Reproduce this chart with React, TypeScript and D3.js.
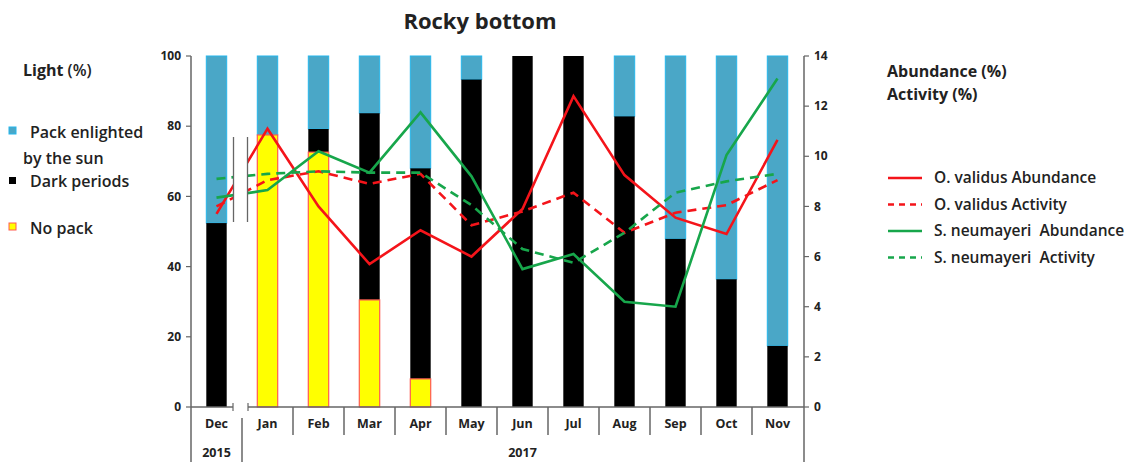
import React from 'react'
import * as d3 from 'd3'

const months = ['Dec', 'Jan', 'Feb', 'Mar', 'Apr', 'May', 'Jun', 'Jul', 'Aug', 'Sep', 'Oct', 'Nov']
// light conditions (%), stacked bottom -> top: no pack, dark, sunlit
const noPack = [0, 77.5, 72.6, 30.5, 8, 0, 0, 0, 0, 0, 0, 0]
const darkPeriods = [52.4, 0, 6.6, 53.2, 60, 93.3, 100, 100, 82.8, 47.9, 36.4, 17.4]
// right axis values
const ovAbundance = [7.7, 11.1, 8.0, 5.7, 7.05, 6.0, 7.9, 12.4, 9.25, 7.55, 6.9, 10.65]
const ovActivity = [8.0, 9.05, 9.4, 8.9, 9.3, 7.25, 7.8, 8.55, 6.95, 7.75, 8.05, 9.05]
const snAbundance = [8.35, 8.65, 10.2, 9.35, 11.75, 9.2, 5.5, 6.1, 4.2, 4.0, 10.05, 13.1]
const snActivity = [9.1, 9.3, 9.4, 9.35, 9.35, 8.05, 6.3, 5.75, 6.95, 8.55, 9.0, 9.3]
const years = [{ label: '2015', from: 0, to: 0 }, { label: '2017', from: 1, to: 11 }]

const BLUE = '#4aa7c7'
const BLUE_EDGE = '#25b6ec'
const RED = '#f4141a'
const GREEN = '#17a64b'
const TXT = '#222'
const AXIS = '#666'
const FONT = '"Open Sans", "DejaVu Sans", sans-serif'

const series = [
  { name: 'O. validus Abundance', values: ovAbundance, color: RED, dash: undefined },
  { name: 'O. validus Activity', values: ovActivity, color: RED, dash: '9,6' },
  { name: 'S. neumayeri  Abundance', values: snAbundance, color: GREEN, dash: undefined },
  { name: 'S. neumayeri  Activity', values: snActivity, color: GREEN, dash: '9,6' },
]

export default function App() {
  const top = 56
  const bottom = 407
  const left = 191
  const right = 804

  const x = d3.scaleBand().domain(months).range([left, 803]).paddingInner(0.6).paddingOuter(0.3)
  const step = x.step()
  const bw = x.bandwidth()
  const cx = (m: string) => (x(m) ?? 0) + bw / 2
  const yL = d3.scaleLinear().domain([0, 100]).range([bottom, top])
  const yR = d3.scaleLinear().domain([0, 14]).range([bottom, top])

  const line = d3.line<number>().x((_, i) => cx(months[i])).y(d => yR(d))

  const breakX = (x('Jan') ?? 0) - (step - bw) / 2
  const gapL = breakX - 9
  const gapR = breakX + 6

  return (
    <svg width={1130} height={462} style={{ position: 'absolute', left: 0, top: 0, background: '#fff' }} fontFamily={FONT}>
      <defs>
        <clipPath id="gap">
          <rect x={0} y={0} width={gapL} height={462} />
          <rect x={gapR} y={0} width={1130 - gapR} height={462} />
        </clipPath>
      </defs>

      <text x={480} y={29} textAnchor="middle" fontSize={22} fontWeight={700} fill={TXT}>Rocky bottom</text>

      {/* bars */}
      {months.map((m, i) => {
        const y0 = noPack[i]
        const y1 = y0 + darkPeriods[i]
        return (
          <g key={m}>
            {y1 < 100 && (
              <rect x={x(m)} y={yL(100)} width={bw} height={yL(y1) - yL(100)} fill={BLUE} stroke={BLUE_EDGE} strokeWidth={1} />
            )}
            {darkPeriods[i] > 0 && (
              <rect x={x(m)} y={yL(y1)} width={bw} height={yL(y0) - yL(y1)} fill="#000" />
            )}
            {y0 > 0 && (
              <rect x={x(m)} y={yL(y0)} width={bw} height={yL(0) - yL(y0)} fill="#ffff00" stroke="#ff5a50" strokeWidth={1.2} />
            )}
          </g>
        )
      })}

      {/* lines */}
      <g clipPath="url(#gap)">
        {series.map(s => (
          <path key={s.name} d={line(s.values) ?? ''} fill="none" stroke={s.color} strokeWidth={2.6} strokeDasharray={s.dash} strokeLinejoin="miter" />
        ))}
      </g>

      {/* break marks in plot */}
      <line x1={gapL + 0.5} x2={gapL + 0.5} y1={137} y2={222} stroke={AXIS} strokeWidth={1.3} />
      <line x1={gapR - 0.5} x2={gapR - 0.5} y1={137} y2={222} stroke={AXIS} strokeWidth={1.3} />

      {/* left axis */}
      <line x1={left} x2={left} y1={top} y2={462} stroke={AXIS} strokeWidth={1.5} />
      {yL.ticks(5).map(t => (
        <g key={t}>
          <line x1={left - 5} x2={left} y1={yL(t)} y2={yL(t)} stroke={AXIS} strokeWidth={1.2} />
          <text x={left - 10} y={yL(t)} dy="0.35em" textAnchor="end" fontSize={12} fontWeight={700} fill={TXT}>{t}</text>
        </g>
      ))}

      {/* right axis */}
      <line x1={right} x2={right} y1={top} y2={462} stroke={AXIS} strokeWidth={1.5} />
      {yR.ticks(7).map(t => (
        <g key={t}>
          <line x1={right} x2={right + 5} y1={yR(t)} y2={yR(t)} stroke={AXIS} strokeWidth={1.2} />
          <text x={right + 10} y={yR(t)} dy="0.35em" textAnchor="start" fontSize={12} fontWeight={700} fill={TXT}>{t}</text>
        </g>
      ))}

      {/* x axis with break */}
      <line x1={left} x2={gapL} y1={bottom} y2={bottom} stroke={AXIS} strokeWidth={1.5} />
      <line x1={gapR} x2={right} y1={bottom} y2={bottom} stroke={AXIS} strokeWidth={1.5} />
      <line x1={gapL} x2={gapL} y1={bottom - 4} y2={bottom + 4} stroke={AXIS} strokeWidth={1.2} />
      <line x1={gapR} x2={gapR} y1={bottom - 4} y2={bottom + 4} stroke={AXIS} strokeWidth={1.2} />
      <line x1={breakX} x2={breakX} y1={418} y2={462} stroke={AXIS} strokeWidth={1.5} />
      {months.slice(2).map(m => {
        const bx = (x(m) ?? 0) - (step - bw) / 2
        return <line key={m} x1={bx} x2={bx} y1={bottom} y2={435} stroke={AXIS} strokeWidth={1.5} />
      })}
      {months.map(m => (
        <text key={m} x={cx(m)} y={428} textAnchor="middle" fontSize={12.5} fontWeight={700} fill={TXT}>{m}</text>
      ))}
      {years.map(yr => (
        <text key={yr.label} x={(cx(months[yr.from]) + cx(months[yr.to])) / 2} y={457} textAnchor="middle" fontSize={12.5} fontWeight={700} fill={TXT}>{yr.label}</text>
      ))}

      {/* left legend */}
      <text x={23} y={76} fontSize={16} fontWeight={700} fill={TXT}>Light <tspan fontWeight={600}>(%)</tspan></text>
      <rect x={9} y={127} width={7} height={7} fill={BLUE} stroke={BLUE_EDGE} />
      <text x={30} y={138} fontSize={16} fontWeight={600} fill={TXT}>Pack enlighted</text>
      <text x={23} y={164} fontSize={16} fontWeight={600} fill={TXT}>by the sun</text>
      <rect x={9} y={177} width={7} height={7} fill="#000" />
      <text x={30} y={187} fontSize={16} fontWeight={600} fill={TXT}>Dark periods</text>
      <rect x={9} y={223} width={7} height={7} fill="#ffff00" stroke="#ff5a50" />
      <text x={30} y={234} fontSize={16} fontWeight={600} fill={TXT}>No pack</text>

      {/* right legend */}
      <text x={887} y={77} fontSize={16} fontWeight={700} fill={TXT}>Abundance (%)</text>
      <text x={887} y={100} fontSize={16} fontWeight={700} fill={TXT}>Activity  (%)</text>
      {series.map((s, i) => {
        const ly = 178 + i * 26.5
        return (
          <g key={s.name}>
            <line x1={888} x2={922} y1={ly} y2={ly} stroke={s.color} strokeWidth={2.6} strokeDasharray={s.dash ? '6,5' : undefined} />
            <text x={934} y={ly} dy="0.35em" fontSize={15.5} fontWeight={600} fill={TXT} style={{ whiteSpace: 'pre' }}>{s.name}</text>
          </g>
        )
      })}
    </svg>
  )
}
